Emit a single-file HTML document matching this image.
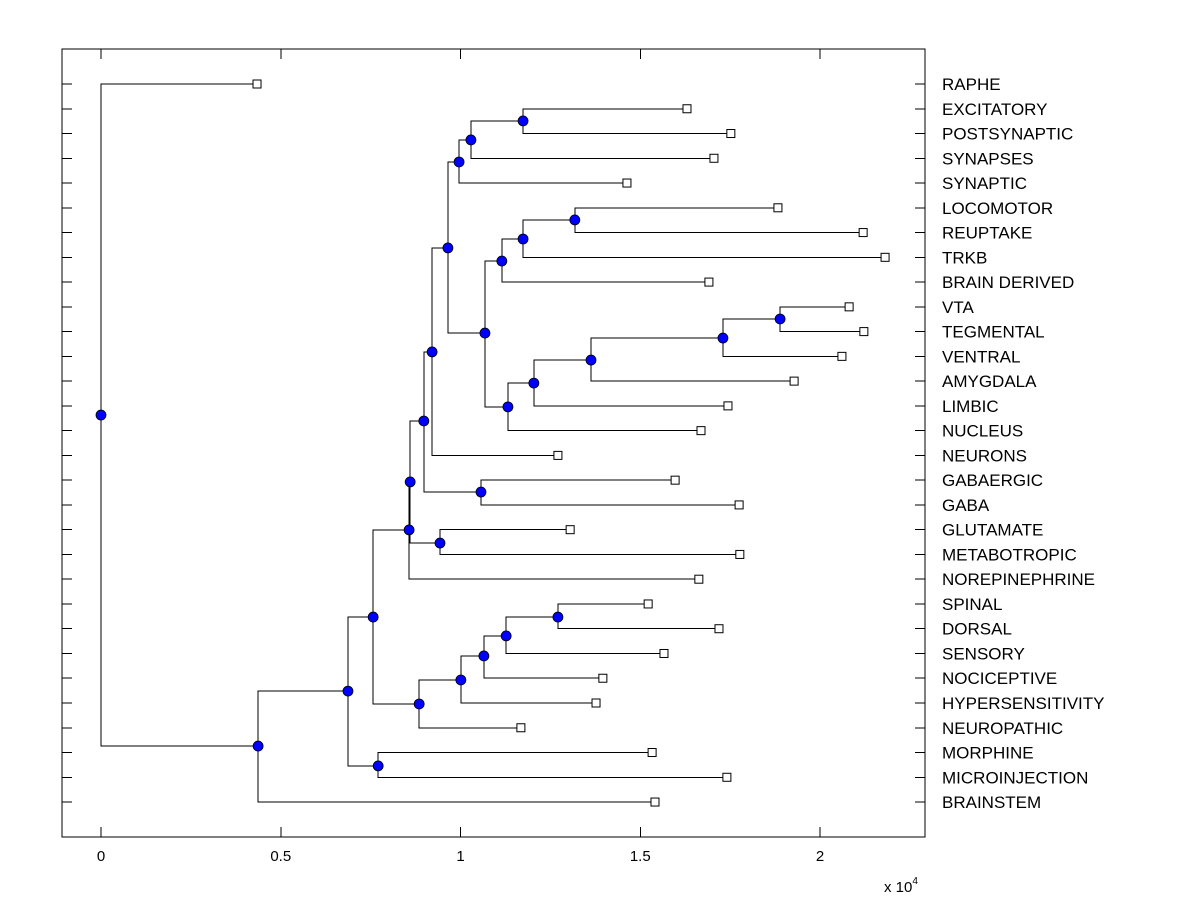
<!DOCTYPE html>
<html><head><meta charset="utf-8"><style>
html,body{margin:0;padding:0;background:#fff;}
svg{display:block;font-family:"Liberation Sans",Arial,sans-serif;}
</style></head><body>
<svg id="chart" width="1200" height="900">
<rect x="62" y="49" width="863" height="788" fill="#fff" stroke="#000" stroke-width="1" shape-rendering="crispEdges"/>
<g id="ticks" shape-rendering="crispEdges"></g>
<g id="links" shape-rendering="crispEdges"></g>
<g id="marks"></g>
<g id="labels"></g>
<text x="884" y="892" font-size="15">x 10<tspan dy="-8" font-size="10">4</tspan></text>
</svg>
<script>
const leafLabels = ["RAPHE","EXCITATORY","POSTSYNAPTIC","SYNAPSES","SYNAPTIC","LOCOMOTOR","REUPTAKE","TRKB","BRAIN DERIVED","VTA","TEGMENTAL","VENTRAL","AMYGDALA","LIMBIC","NUCLEUS","NEURONS","GABAERGIC","GABA","GLUTAMATE","METABOTROPIC","NOREPINEPHRINE","SPINAL","DORSAL","SENSORY","NOCICEPTIVE","HYPERSENSITIVITY","NEUROPATHIC","MORPHINE","MICROINJECTION","BRAINSTEM"];
const leafHeights = [0.434,1.630,1.752,1.705,1.463,1.883,2.120,2.181,1.691,2.081,2.122,2.061,1.928,1.744,1.669,1.271,1.597,1.775,1.305,1.777,1.663,1.522,1.719,1.566,1.396,1.377,1.168,1.533,1.741,1.541];
const nodeNames = ["A","B","C","D","E","F","G","H","I","J","K","L","M","N","O","P","Q","T","R","U","V","W","X","Y","S","Z","AA","BB","ROOT"];
const nodeHeights = [1.174,1.029,0.996,1.318,1.174,1.115,1.889,1.730,1.363,1.204,1.132,1.068,0.965,0.921,1.057,0.898,0.860,0.943,0.857,1.271,1.127,1.065,1.001,0.885,0.757,0.771,0.687,0.437,0.0];
const nodeRows = [1.49,2.26,3.15,5.49,6.26,7.15,9.49,10.26,11.15,12.08,13.04,10.06,6.62,10.82,16.48,13.61,16.07,18.54,18.01,21.53,22.29,23.10,24.07,25.04,21.53,27.54,24.52,26.74,13.37];
const nodeChildren = [[1,2],["A",3],["B",4],[5,6],["D",7],["E",8],[9,10],["G",11],["H",12],["I",13],["J",14],["F","K"],["C","L"],["M",15],[16,17],["N","O"],["P","T"],[18,19],["Q",20],[21,22],["U",23],["V",24],["W",25],["X",26],["R","Y"],[27,28],["S","Z"],["AA",29],[0,"BB"]];
const xTicks = [0,0.5,1,1.5,2];
const xTickLabels = ["0","0.5","1","1.5","2"];

const NS="http://www.w3.org/2000/svg";
const X0=101, XS=359.5, Y0=84, YS=24.76;
const sx=v=>X0+v*XS, sy=r=>Y0+r*YS;
function mk(tag,attrs,parent){const e=document.createElementNS(NS,tag);for(const k in attrs)e.setAttribute(k,attrs[k]);parent.appendChild(e);return e;}
const ticks=document.getElementById('ticks'),links=document.getElementById('links'),marks=document.getElementById('marks'),labels=document.getElementById('labels');

xTicks.forEach((t,i)=>{
  const x=sx(t);
  let a=mk('line',{x1:x,x2:x,y1:49,y2:59,stroke:'#000'},ticks);
  
  
  let b=mk('line',{x1:x,x2:x,y1:827,y2:837,stroke:'#000'},ticks);
  
  
  let t2=mk('text',{x:x,y:861,'font-size':15,'text-anchor':'middle'},labels);
  t2.textContent=xTickLabels[i];
  
  
});
leafLabels.forEach((lab,i)=>{
  const y=sy(i);
  let a=mk('line',{x1:62,x2:72,y1:y,y2:y,stroke:'#000'},ticks);
  
  
  let b=mk('line',{x1:915,x2:925,y1:y,y2:y,stroke:'#000'},ticks);
  
  
  let t=mk('text',{x:942,y:y+6,'font-size':17},labels);
  t.textContent=lab;
  
  
});
function pos(c){
  if(typeof c==='number') return [sx(leafHeights[c]),sy(c)];
  const k=nodeNames.indexOf(c);return [sx(nodeHeights[k]),sy(nodeRows[k])];
}
nodeNames.forEach((n,k)=>{
  const px=sx(nodeHeights[k]), py=sy(nodeRows[k]);
  nodeChildren[k].forEach(c=>{
    const [cx,cy]=pos(c);
    let p=mk('polyline',{points:`${px},${py} ${px},${cy} ${cx},${cy}`,fill:'none',stroke:'#000','stroke-width':1},links);
    
    
  });
});
leafHeights.forEach((h,i)=>{
  let r=mk('rect',{x:sx(h)-4,y:sy(i)-4,width:8,height:8,fill:'#fff',stroke:'#000'},marks);
  
  
});
nodeNames.forEach((n,k)=>{
  let c=mk('circle',{cx:sx(nodeHeights[k]),cy:sy(nodeRows[k]),r:5,fill:'#0000ff',stroke:'#000','stroke-width':0.8},marks);
  
  
});
</script>
</body></html>
